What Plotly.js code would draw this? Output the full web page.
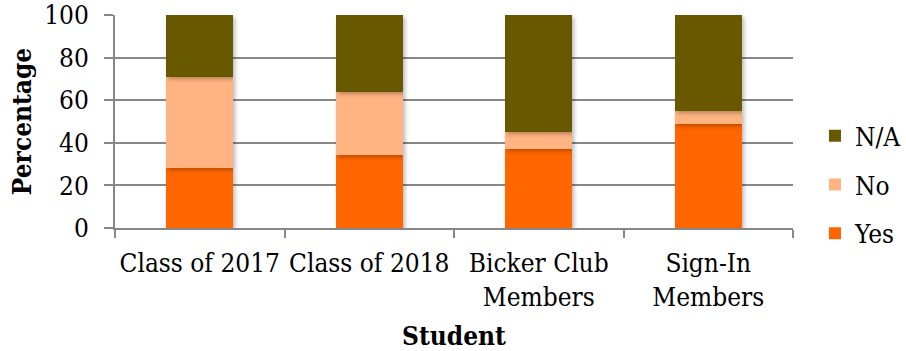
<!DOCTYPE html>
<html>
<head>
<meta charset="utf-8">
<script src="https://cdn.plot.ly/plotly-3.0.1.min.js"></script>
<style>
  html, body { margin: 0; padding: 0; background: #fff; }
  #chart { width: 906px; height: 351px; }
  #chart text { font-stretch: condensed; }
  .bars path { filter: drop-shadow(2px 2px 2px rgba(0,0,0,0.28)); }
</style>
</head>
<body>
<div id="chart"></div>
<script>
// Survey responses by student group (percent of each group)
const groups = ["Class of 2017", "Class of 2018", "Bicker Club<br>Members", "Sign-In<br>Members"];
const yesPct = [28.4, 34.5, 37.3, 48.7];
const noPct  = [42.6, 29.2, 8.0, 6.0];
const naPct  = [29.0, 36.3, 54.7, 45.3];
const yTicks = [0, 20, 40, 60, 80, 100];

const FONT = "DejaVu Serif";
const GRID = "#878787";

// rank puts the top segment first in the legend
function series(name, values, color, rank) {
  return {
    type: "bar",
    name: name,
    x: groups,
    y: values,
    legendgroup: name,
    legendrank: rank,
    marker: { color: color, line: { width: 0 } },
    hoverinfo: "skip"
  };
}

const data = [
  series("Yes", yesPct, "#FF6600", 3),
  series("No", noPct, "#FFB482", 2),
  series("N/A", naPct, "#685800", 1)
];

const layout = {
  width: 906,
  height: 351,
  margin: { l: 115, r: 113, t: 15, b: 123, autoexpand: false },
  paper_bgcolor: "#ffffff",
  plot_bgcolor: "#ffffff",
  barmode: "stack",
  bargap: 0.605,
  font: { family: FONT, size: 26, color: "#000000" },
  showlegend: true,
  legend: {
    x: 1.0324, xanchor: "left",
    y: 0.203, yanchor: "middle",
    traceorder: "grouped",
    tracegroupgap: 12,
    font: { family: FONT, size: 26, color: "#000000" },
    bgcolor: "rgba(0,0,0,0)"
  },
  xaxis: {
    type: "category",
    showline: true, linecolor: GRID, linewidth: 2,
    showgrid: false,
    ticks: "outside", tickson: "boundaries", ticklen: 8, tickwidth: 2, tickcolor: GRID,
    tickangle: 0,
    ticklabelstandoff: 11,
    tickfont: { family: FONT, size: 26, color: "#000000" },
    title: { text: "<b>Student</b>", font: { family: FONT, size: 26, color: "#000000" }, standoff: 17 }
  },
  yaxis: {
    range: [0, 100],
    tickvals: yTicks,
    ticktext: yTicks.map(String),
    showline: true, linecolor: GRID, linewidth: 2,
    showgrid: true, gridcolor: GRID, gridwidth: 2,
    zeroline: false,
    ticks: "outside", ticklen: 9, tickwidth: 2, tickcolor: GRID,
    ticklabelstandoff: 10,
    tickfont: { family: FONT, size: 26, color: "#000000" },
    title: { text: "<b>Percentage</b>", font: { family: FONT, size: 26, color: "#000000" }, standoff: 0 }
  }
};

Plotly.newPlot("chart", data, layout, { staticPlot: true, displayModeBar: false });
</script>
</body>
</html>
